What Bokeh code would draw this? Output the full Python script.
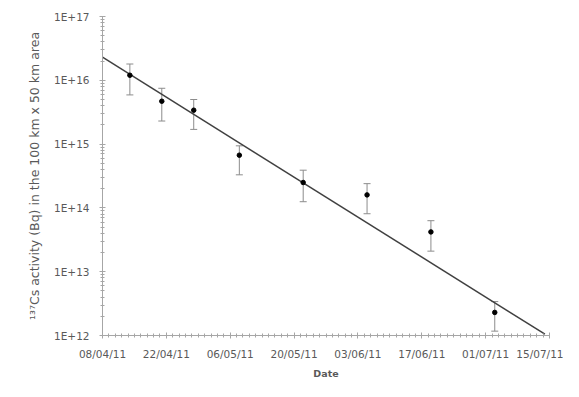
from datetime import datetime
from bokeh.plotting import figure
from bokeh.models import (ColumnDataSource, Range1d, FixedTicker, DatetimeTickFormatter,
                          CustomJSTickFormatter, Whisker, TeeHead)
from bokeh.embed import file_html
from bokeh.resources import INLINE

# ---- data ----
dates = ["14/04/11", "21/04/11", "28/04/11", "08/05/11", "22/05/11", "05/06/11", "19/06/11", "03/07/11"]
activity = [1.2e16, 4.7e15, 3.4e15, 6.7e14, 2.5e14, 1.6e14, 4.2e13, 2.3e12]
err_upper = [1.8e16, 7.5e15, 5.0e15, 9.4e14, 3.9e14, 2.4e14, 6.3e13, 3.4e12]
err_lower = [5.9e15, 2.3e15, 1.7e15, 3.3e14, 1.25e14, 8.1e13, 2.1e13, 1.17e12]
fit_dates = ["08/04/11", "14/07/11"]
fit_values = [2.3e16, 1.05e12]
x_tick_labels = ["08/04/11", "22/04/11", "06/05/11", "20/05/11", "03/06/11", "17/06/11", "01/07/11", "15/07/11"]
y_ticks = [1e12, 1e13, 1e14, 1e15, 1e16, 1e17]

def to_dt(s):
    return datetime.strptime(s, "%d/%m/%y")

src = ColumnDataSource(dict(x=[to_dt(d) for d in dates], y=activity, upper=err_upper, lower=err_lower))
fit = ColumnDataSource(dict(x=[to_dt(d) for d in fit_dates], y=fit_values))

FONT = "DejaVu Sans"
TXT = "#595959"
AX = "#a6a6a6"

xt = [to_dt(d) for d in x_tick_labels]
p = figure(width=563, height=381, x_axis_type="datetime", y_axis_type="log",
           x_range=Range1d(xt[0], xt[-1]), y_range=Range1d(y_ticks[0], y_ticks[-1]),
           output_backend="svg", toolbar_location=None,
           min_border_left=102, min_border_right=14, min_border_top=16, min_border_bottom=44)
p.outline_line_color = None
p.grid.visible = False

epoch = datetime(1970, 1, 1)
ms = lambda d: (d - epoch).total_seconds() * 1000.0
major_ms = [ms(d) for d in xt]
minor_ms = []
for a, b in zip(major_ms[:-1], major_ms[1:]):
    for k in range(1, 10):
        minor_ms.append(a + (b - a) * k / 10)
p.xaxis.ticker = FixedTicker(ticks=major_ms, minor_ticks=minor_ms)
fmt = "%d/%m/%y"
p.xaxis.formatter = DatetimeTickFormatter(days=fmt, months=fmt, years=fmt, hours=fmt,
                                          hourmin=fmt, minutes=fmt, seconds=fmt,
                                          minsec=fmt, milliseconds=fmt, microseconds=fmt)
y_minor = [k * t for t in y_ticks[:-1] for k in range(2, 10)]
p.yaxis.ticker = FixedTicker(ticks=y_ticks, minor_ticks=y_minor)
p.yaxis.formatter = CustomJSTickFormatter(code="return '1E+' + Math.round(Math.log10(tick));")

for ax in (p.xaxis[0], p.yaxis[0]):
    ax.axis_line_color = AX
    ax.major_tick_line_color = AX
    ax.minor_tick_line_color = AX
    ax.major_tick_in = 3
    ax.major_tick_out = 3
    ax.minor_tick_in = 2
    ax.minor_tick_out = 2
    ax.major_label_text_font = FONT
    ax.major_label_text_font_size = "10.5px"
    ax.major_label_text_color = TXT
    ax.axis_label_text_font = FONT
    ax.axis_label_text_color = TXT

p.xaxis.major_label_standoff = 9
p.xaxis.axis_label = "Date"
p.xaxis.axis_label_text_font_style = "bold"
p.xaxis.axis_label_text_font_size = "9.5px"
p.xaxis.axis_label_standoff = 5

p.yaxis.major_label_standoff = 10
p.yaxis.axis_label = "\u00b9\u00b3\u2077Cs activity (Bq) in the 100 km x 50 km area"
p.yaxis.axis_label_text_font_style = "normal"
p.yaxis.axis_label_text_font_size = "12.5px"
p.yaxis.axis_label_standoff = 9

p.line("x", "y", source=fit, line_color="#404040", line_width=1.5)

w = Whisker(base="x", upper="upper", lower="lower", source=src, dimension="height",
            line_color="#8c8c8c", line_width=1,
            upper_head=TeeHead(size=7, line_color="#8c8c8c", line_width=1),
            lower_head=TeeHead(size=7, line_color="#8c8c8c", line_width=1))
p.add_layout(w)

p.scatter("x", "y", source=src, size=4.5, color="black")

open("out.html", "w").write(file_html(p, INLINE))
